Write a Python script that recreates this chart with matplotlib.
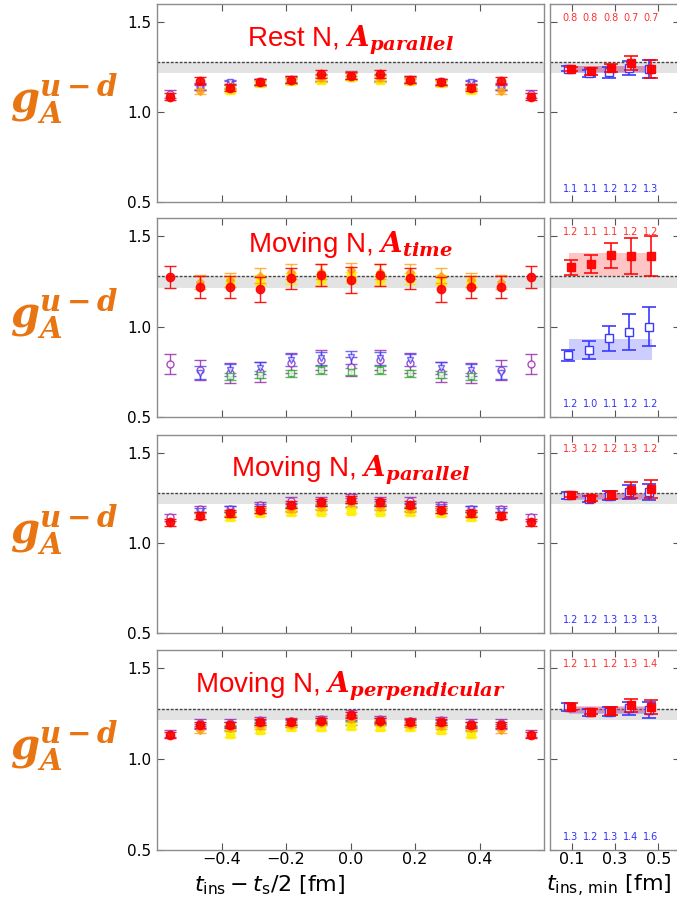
import numpy as np
import matplotlib
matplotlib.use("Agg")
import matplotlib.pyplot as plt

# ---------------- data ----------------
t_rel = [-0.559, -0.466, -0.373, -0.280, -0.186, -0.093, 0.0, 0.093, 0.186, 0.280, 0.373, 0.466, 0.559]
t_min = [0.093, 0.186, 0.280, 0.373, 0.466]

titles = ["Rest N, ", "Moving N, ", "Moving N, ", "Moving N, "]
title_sub = ["parallel", "time", "parallel", "perpendicular"]

# panel 1 : rest N, A_parallel
p1_red = [1.086, 1.174, 1.134, 1.168, 1.180, 1.211, 1.202, 1.211, 1.180, 1.168, 1.134, 1.174, 1.086]
p1_red_err = [0.022, 0.02, 0.02, 0.018, 0.018, 0.02, 0.02, 0.02, 0.018, 0.018, 0.02, 0.02, 0.022]
p1_orange = [1.115, 1.14, 1.165, 1.175, 1.19, 1.205, 1.19, 1.175, 1.165, 1.14, 1.115]
p1_yellow = [1.12, 1.16, 1.17, 1.18, 1.195, 1.18, 1.17, 1.16, 1.12]
p1_purple = [1.10, 1.14, 1.155, 1.165, 1.18, 1.19, 1.205, 1.19, 1.18, 1.165, 1.155, 1.14, 1.10]
p1_blue = [1.135, 1.165, 1.17, 1.18, 1.19, 1.20, 1.19, 1.18, 1.17, 1.165, 1.135]
p1_green = [1.14, 1.16, 1.17, 1.18, 1.19, 1.18, 1.17, 1.16, 1.14]

# panel 2 : moving N, A_time
p2_red = [1.272, 1.220, 1.217, 1.205, 1.266, 1.285, 1.257, 1.285, 1.266, 1.205, 1.217, 1.220, 1.272]
p2_red_err = [0.06, 0.06, 0.06, 0.07, 0.06, 0.06, 0.07, 0.06, 0.06, 0.07, 0.06, 0.06, 0.06]
p2_orange = [1.245, 1.257, 1.281, 1.303, 1.303, 1.312, 1.303, 1.303, 1.281, 1.257, 1.245]
p2_yellow = [1.248, 1.257, 1.266, 1.262, 1.272, 1.262, 1.266, 1.257, 1.248]
p2_purple = [0.793, 0.760, 0.742, 0.751, 0.797, 0.816, 0.779, 0.816, 0.797, 0.751, 0.742, 0.760, 0.793]
p2_blue = [0.745, 0.760, 0.770, 0.816, 0.825, 0.830, 0.825, 0.816, 0.770, 0.760, 0.745]
p2_green = [0.724, 0.733, 0.742, 0.760, 0.750, 0.760, 0.742, 0.733, 0.724]

# panel 3 : moving N, A_parallel
p3_red = [1.115, 1.152, 1.165, 1.185, 1.213, 1.226, 1.241, 1.226, 1.213, 1.185, 1.165, 1.152, 1.115]
p3_red_err = [0.018] * 13
p3_orange = [1.150, 1.165, 1.180, 1.190, 1.200, 1.220, 1.200, 1.190, 1.180, 1.165, 1.150]
p3_yellow = [1.143, 1.165, 1.170, 1.175, 1.180, 1.175, 1.170, 1.165, 1.143]
p3_purple = [1.143, 1.189, 1.190, 1.211, 1.235, 1.235, 1.254, 1.235, 1.235, 1.211, 1.190, 1.189, 1.143]
p3_blue = [1.180, 1.190, 1.200, 1.210, 1.220, 1.235, 1.220, 1.210, 1.200, 1.190, 1.180]
p3_green = [1.160, 1.180, 1.190, 1.200, 1.210, 1.200, 1.190, 1.180, 1.160]

# panel 4 : moving N, A_perpendicular
p4_red = [1.134, 1.188, 1.188, 1.205, 1.205, 1.212, 1.243, 1.212, 1.205, 1.205, 1.188, 1.188, 1.134]
p4_red_err = [0.016] * 13
p4_orange = [1.160, 1.170, 1.180, 1.190, 1.200, 1.220, 1.200, 1.190, 1.180, 1.170, 1.160]
p4_yellow = [1.137, 1.160, 1.174, 1.175, 1.180, 1.175, 1.174, 1.160, 1.137]
p4_purple = [1.140, 1.200, 1.200, 1.215, 1.210, 1.220, 1.250, 1.220, 1.210, 1.215, 1.200, 1.200, 1.140]
p4_blue = [1.180, 1.190, 1.200, 1.200, 1.210, 1.230, 1.210, 1.200, 1.200, 1.190, 1.180]
p4_green = [1.170, 1.190, 1.190, 1.200, 1.200, 1.200, 1.190, 1.190, 1.170]

# uniform error sizes per series (panel order)
err_orange = [0.015, 0.04, 0.015, 0.015]
err_yellow = [0.015, 0.03, 0.015, 0.015]
err_purple = [0.02, 0.055, 0.018, 0.018]
err_blue = [0.015, 0.035, 0.015, 0.015]
err_green = [0.012, 0.02, 0.012, 0.012]

# right panels: fits vs t_ins,min
r_red = [[1.240, 1.225, 1.246, 1.272, 1.240],
         [1.327, 1.344, 1.393, 1.388, 1.392],
         [1.268, 1.248, 1.267, 1.296, 1.300],
         [1.289, 1.261, 1.265, 1.296, 1.287]]
r_red_err = [[0.012, 0.02, 0.023, 0.04, 0.05],
             [0.04, 0.05, 0.07, 0.10, 0.11],
             [0.015, 0.015, 0.02, 0.045, 0.05],
             [0.02, 0.015, 0.02, 0.035, 0.04]]
r_blue = [[1.240, 1.215, 1.220, 1.246, 1.238],
          [0.840, 0.871, 0.934, 0.972, 1.000],
          [1.266, 1.245, 1.263, 1.282, 1.285],
          [1.287, 1.258, 1.261, 1.280, 1.270]]
r_blue_err = [[0.015, 0.02, 0.03, 0.04, 0.05],
              [0.03, 0.05, 0.07, 0.10, 0.11],
              [0.02, 0.015, 0.025, 0.04, 0.045],
              [0.02, 0.02, 0.025, 0.035, 0.045]]
band_red = [[1.222, 1.258], [1.280, 1.404], [1.245, 1.280], [1.255, 1.290]]
band_blue = [[1.215, 1.255], [0.814, 0.932], [1.240, 1.275], [1.250, 1.285]]
chi_red = [["0.8", "0.8", "0.8", "0.7", "0.7"],
           ["1.2", "1.1", "1.1", "1.2", "1.2"],
           ["1.3", "1.2", "1.2", "1.3", "1.2"],
           ["1.2", "1.1", "1.2", "1.3", "1.4"]]
chi_blue = [["1.1", "1.1", "1.2", "1.2", "1.3"],
            ["1.2", "1.0", "1.1", "1.2", "1.2"],
            ["1.2", "1.2", "1.3", "1.3", "1.3"],
            ["1.3", "1.2", "1.3", "1.4", "1.6"]]

exp_band = [1.215, 1.278]

panels = [
    (p1_red, p1_red_err, p1_orange, p1_yellow, p1_purple, p1_blue, p1_green),
    (p2_red, p2_red_err, p2_orange, p2_yellow, p2_purple, p2_blue, p2_green),
    (p3_red, p3_red_err, p3_orange, p3_yellow, p3_purple, p3_blue, p3_green),
    (p4_red, p4_red_err, p4_orange, p4_yellow, p4_purple, p4_blue, p4_green),
]

# ---------------- figure ----------------
W, H = 677, 897
fig = plt.figure(figsize=(W / 100, H / 100), dpi=100)
rows = [(4, 202), (218, 417), (435, 633), (650, 850)]
title_base = [0.784, 0.831, 0.788, 0.789]
L0, L1 = 157, 544
R0, R1 = 550, 680

C_PURPLE = "#9b30b0"
C_BLUE = "#3a3aff"
C_GREEN = "#2ca02c"
C_YELLOW = "#ffee00"
C_ORANGE = "#ffa010"
C_RED = "#ff0000"
ORANGE_LABEL = "#e87511"
SPINE = "#8c8c8c"


def style_axes(ax):
    for s in ax.spines.values():
        s.set_color(SPINE)
        s.set_linewidth(1.0)
    ax.tick_params(direction="in", top=True, right=True, length=5, color="#555555",
                   labelsize=11, pad=4)
    ax.set_ylim(0.5, 1.6)
    ax.set_yticks([0.5, 1.0, 1.5])


for i, (top, bot) in enumerate(rows):
    y0 = 1 - bot / H
    hh = (bot - top) / H
    axL = fig.add_axes([L0 / W, y0, (L1 - L0) / W, hh])
    axR = fig.add_axes([R0 / W, y0, (R1 - R0) / W, hh])
    style_axes(axL)
    style_axes(axR)
    axL.set_xlim(-0.6, 0.6)
    axL.set_xticks([-0.4, -0.2, 0.0, 0.2, 0.4])
    axR.set_xlim(0.0, 0.6)
    axR.set_xticks([0.1, 0.3, 0.5])
    axR.set_yticklabels([])
    axL.set_yticklabels(["0.5", "1.0", "1.5"])
    if i < 3:
        axL.set_xticklabels([])
        axR.set_xticklabels([])
    else:
        axL.tick_params(axis="x", labelsize=11.5, pad=1.5)
        axR.tick_params(axis="x", labelsize=11.5, pad=1.5)

    for ax in (axL, axR):
        ax.axhspan(exp_band[0], exp_band[1], color="#e3e3e3", zorder=0, lw=0)
        ax.axhline(exp_band[1], color="#444444", ls=(0, (2, 1.2)), lw=1.0, zorder=1)

    red, red_err, orange, yellow, purple, blue, green = panels[i]
    x13 = t_rel
    x11 = t_rel[1:-1]
    x9 = t_rel[2:-2]
    ekw = dict(capsize=4, elinewidth=1.0, capthick=1.0, ls="none")
    axL.errorbar(x13, purple, yerr=err_purple[i], fmt="o", mfc="white", mec=C_PURPLE,
                 color=C_PURPLE, ms=5, alpha=0.85, zorder=3, **ekw)
    axL.errorbar(x11, blue, yerr=err_blue[i], fmt="v", mfc="white", mec=C_BLUE,
                 color=C_BLUE, ms=5, alpha=0.75, zorder=3, **ekw)
    axL.errorbar(x9, green, yerr=err_green[i], fmt="s", mfc="white", mec=C_GREEN,
                 color=C_GREEN, ms=4, alpha=0.75, zorder=3, **ekw)
    axL.errorbar(x9, yellow, yerr=err_yellow[i], fmt="s", mfc=C_YELLOW, mec=C_YELLOW,
                 color=C_YELLOW, ms=6, alpha=0.9, zorder=4, **ekw)
    axL.errorbar(x11, orange, yerr=err_orange[i], fmt="D", mfc=C_ORANGE, mec=C_ORANGE,
                 color=C_ORANGE, ms=4.5, alpha=0.8, zorder=5, **ekw)
    axL.errorbar(x13, red, yerr=red_err, fmt="o", mfc=C_RED, mec=C_RED,
                 color=C_RED, ms=6, alpha=0.9, zorder=6, **ekw)

    # right panel
    axR.fill_between([t_min[0] - 0.004, t_min[-1] + 0.004], band_blue[i][0], band_blue[i][1],
                     color="#5a5aff", alpha=0.3, lw=0, zorder=2)
    axR.fill_between([t_min[0] - 0.004, t_min[-1] + 0.004], band_red[i][0], band_red[i][1],
                     color="#ff4040", alpha=0.3, lw=0, zorder=2)
    xb = [t - 0.008 for t in t_min]
    xr = [t + 0.002 for t in t_min]
    axR.errorbar(xb, r_blue[i], yerr=r_blue_err[i], fmt="s", mfc="white", mec=C_BLUE,
                 color=C_BLUE, ms=6, capsize=5, elinewidth=1.2, capthick=1.2, ls="none", zorder=4)
    axR.errorbar(xr, r_red[i], yerr=r_red_err[i], fmt="s", mfc=C_RED, mec=C_RED,
                 color=C_RED, ms=6, capsize=5, elinewidth=1.2, capthick=1.2, ls="none",
                 alpha=0.95, zorder=5)
    for k, t in enumerate(t_min):
        axR.text(t, 1.525, chi_red[i][k], color="#ff3030", fontsize=7, ha="center",
                 va="center")
        axR.text(t, 0.572, chi_blue[i][k], color="#3030ff", fontsize=7, ha="center",
                 va="center")

    # panel title
    axL.text(0.5, title_base[i], titles[i] + r"$\mathbfit{A}_{\mathbfit{" + title_sub[i] + "}}$",
             transform=axL.transAxes, ha="center", va="baseline", color="red",
             fontsize=20, family="Liberation Sans", math_fontfamily="dejavuserif")

    # y label
    fig.text(64 / W, 1 - ((top + bot) / 2 - 4) / H, r"$\mathbfit{g}_{\mathbfit{A}}^{\mathbfit{u-d}}$",
             ha="center", va="center", color=ORANGE_LABEL, fontsize=30,
             math_fontfamily="dejavuserif")

fig.text(270 / W, 1 - 891 / H, r"$t_{\rm ins} - t_{\rm s}/2$ [fm]", ha="center",
         va="baseline", fontsize=16)
fig.text(609 / W, 1 - 891 / H, r"$t_{\rm ins,\,min}$ [fm]", ha="center",
         va="baseline", fontsize=16)

fig.savefig("out.png", dpi=100)
